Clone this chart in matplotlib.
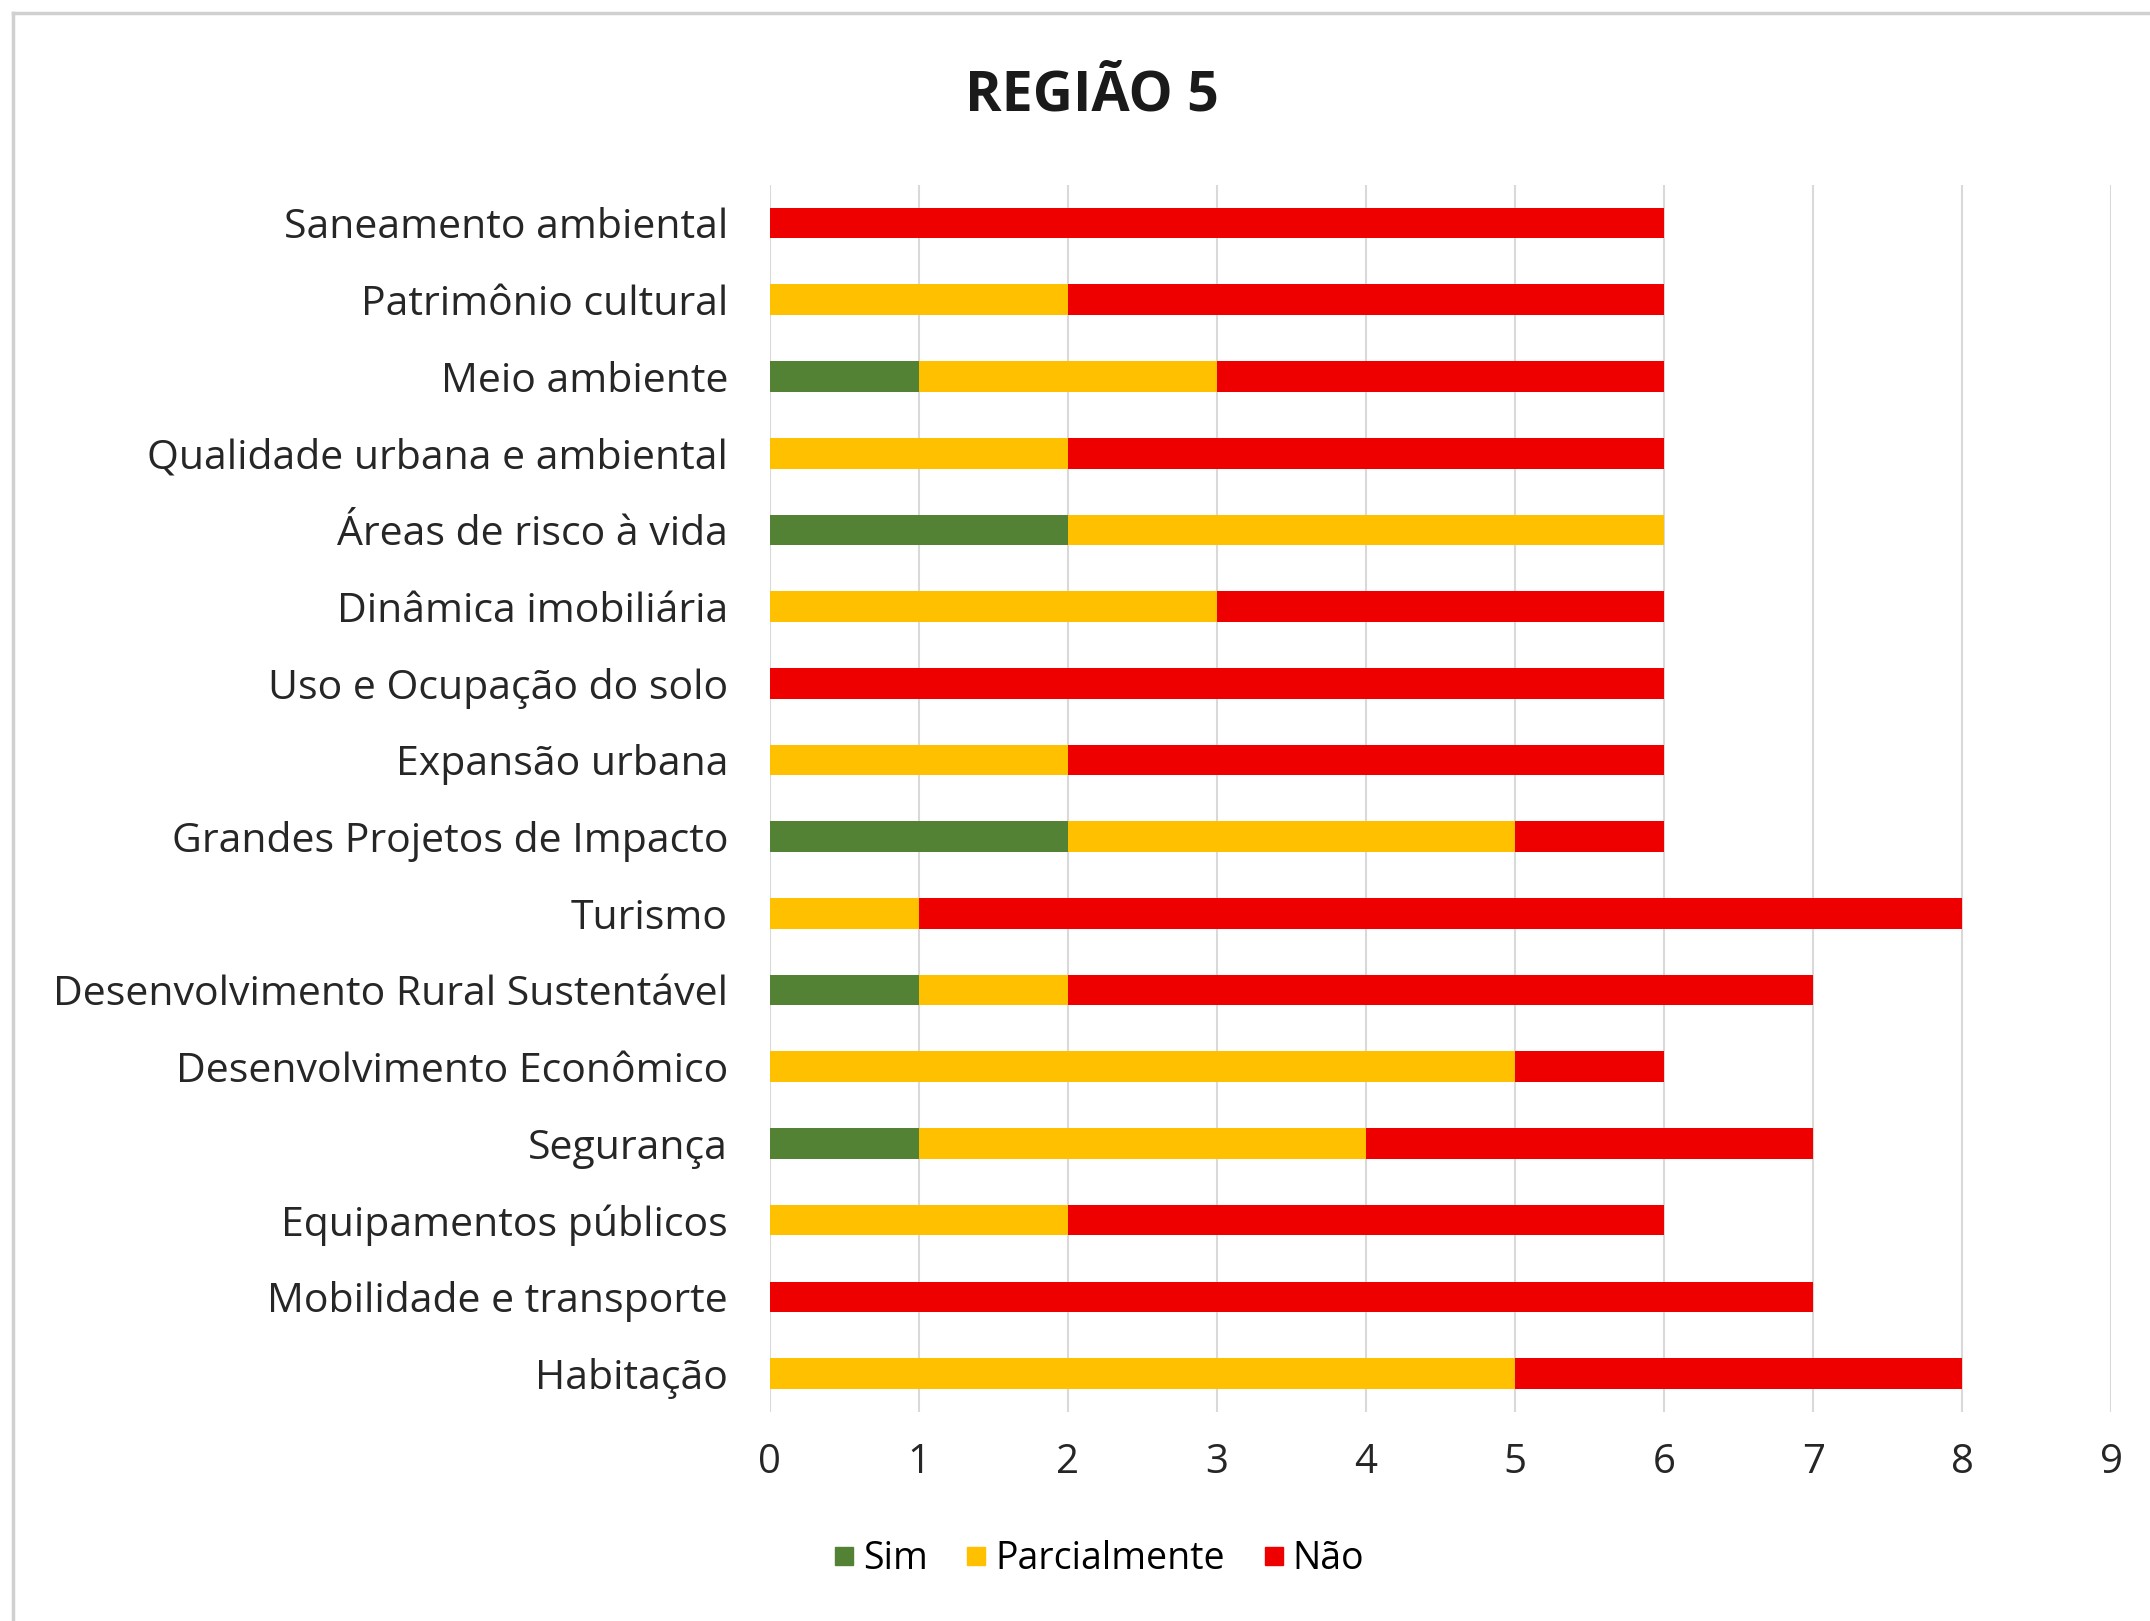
import matplotlib.pyplot as plt
from matplotlib.lines import Line2D

# Data, read top to bottom in the reference
categorias = [
    'Saneamento ambiental',
    'Patrimônio cultural',
    'Meio ambiente',
    'Qualidade urbana e ambiental',
    'Áreas de risco à vida',
    'Dinâmica imobiliária',
    'Uso e Ocupação do solo',
    'Expansão urbana',
    'Grandes Projetos de Impacto',
    'Turismo',
    'Desenvolvimento Rural Sustentável',
    'Desenvolvimento Econômico',
    'Segurança',
    'Equipamentos públicos',
    'Mobilidade e transporte',
    'Habitação',
]
sim = [0, 0, 1, 0, 2, 0, 0, 0, 2, 0, 1, 0, 1, 0, 0, 0]
parcialmente = [0, 2, 2, 2, 4, 3, 0, 2, 3, 1, 1, 5, 3, 2, 0, 5]
nao = [6, 4, 3, 4, 0, 3, 6, 4, 1, 7, 5, 1, 3, 4, 7, 3]
xticks = list(range(0, 10))

plt.rcParams['font.family'] = ['Open Sans', 'DejaVu Sans']

fig = plt.figure(figsize=(21.5, 16.21), dpi=100)
ax = fig.add_axes([0.358, 0.129, 0.624, 0.757])

y = list(range(len(categorias)))
left3 = [a + b for a, b in zip(sim, parcialmente)]
ax.barh(y, sim, height=0.4, color='#548235', label='Sim', zorder=3)
ax.barh(y, parcialmente, left=sim, height=0.4, color='#FFC000', label='Parcialmente', zorder=3)
ax.barh(y, nao, left=left3, height=0.4, color='#EE0000', label='Não', zorder=3)

ax.set_ylim(len(categorias) - 0.5, -0.5)
ax.set_xlim(0, 9)
ax.set_xticks(xticks)
ax.set_yticks(y)
ax.set_yticklabels(categorias, fontsize=29.5, color='#262626')
ax.tick_params(axis='y', length=0, pad=30)
ax.tick_params(axis='x', length=0, pad=22, labelsize=29, labelcolor='#262626')
ax.grid(axis='x', color='#D9D9D9', linewidth=1.5, zorder=0)
for s in ax.spines.values():
    s.set_visible(False)

fig.text(0.508, 0.941, 'REGIÃO 5', ha='center', va='center', fontsize=40,
         fontweight='bold', color='#1a1a1a')

handles = [Line2D([], [], marker='s', linestyle='none', markersize=13, color=c)
           for c in ['#548235', '#FFC000', '#EE0000']]
fig.legend(handles, ['Sim', 'Parcialmente', 'Não'], loc='center', bbox_to_anchor=(0.51, 0.038),
           ncol=3, frameon=False, fontsize=27, handletextpad=0.1, columnspacing=0.9,
           handlelength=0.8)

# light frame at top and left, as in the screenshot
fig.add_artist(Line2D([0.006, 1], [0.992, 0.992], color='#D0D0D0', linewidth=2.5))
fig.add_artist(Line2D([0.006, 0.006], [0, 0.992], color='#D0D0D0', linewidth=2.5))

fig.savefig('out.png', dpi=100)
